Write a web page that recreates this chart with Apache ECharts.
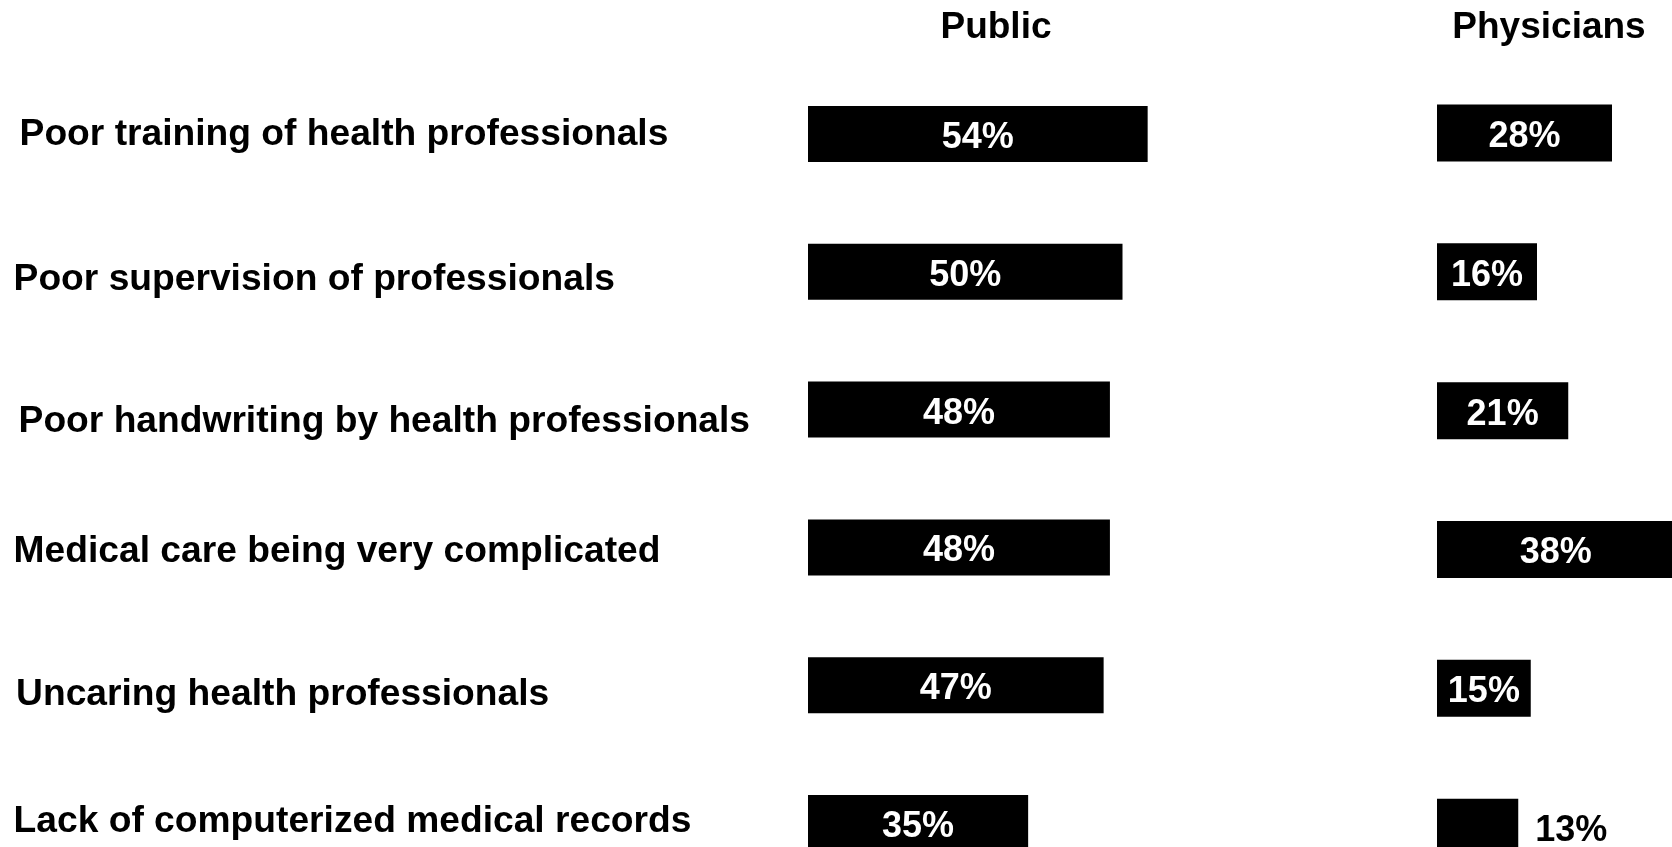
<!DOCTYPE html>
<html>
<head>
<meta charset="utf-8">
<script src="https://cdn.jsdelivr.net/npm/echarts@6/dist/echarts.min.js"></script>
<style>
html,body{margin:0;padding:0;background:#fff;}
#chart{width:1672px;height:847px;}
</style>
</head>
<body>
<div id="chart"></div>
<script>
// ---- data ----
const categories = [
  'Poor training of health professionals',
  'Poor supervision of professionals',
  'Poor handwriting by health professionals',
  'Medical care being very complicated',
  'Uncaring health professionals',
  'Lack of computerized medical records'
];
const publicValues = [54, 50, 48, 48, 47, 35];
const physicianValues = [28, 16, 21, 38, 15, 13];
const panelTitles = ['Public', 'Physicians'];

// ---- layout / style constants ----
const FONT = '"Liberation Sans", Arial, sans-serif';
const labelShiftX = [6, 0, 5, 0, 2.5, 0];
const labelShiftY = [0.9, 7.75, 12.4, 4.1, 9.2, -1.1];

const chart = echarts.init(document.getElementById('chart'));

const catData = categories.map((c, i) => ({
  value: c,
  textStyle: { align: 'left', padding: [0, 0, 0, labelShiftX[i]] }
}));

const rich = {
  t: { fontFamily: FONT, fontWeight: 'bold', fontSize: 37.2, lineHeight: 42, color: '#000' }
};
labelShiftY.forEach((s, i) => {
  rich['g' + i] = { fontSize: 1, lineHeight: Math.max(1, 2 * Math.abs(s)), color: 'rgba(0,0,0,0)' };
});

function catFormatter(value, index) {
  const s = labelShiftY[index];
  if (s >= 0) return '{g' + index + '| }\n{t|' + value + '}';
  return '{t|' + value + '}\n{g' + index + '| }';
}

function barLabel(v, small) {
  return small
    ? { show: true, position: 'right', distance: 17, color: '#000', offset: [0, 4] }
    : { show: true, position: 'inside', color: '#fff', offset: [0, 4] };
}

const option = {
  backgroundColor: '#fff',
  animation: false,
  title: [
    { text: panelTitles[0], left: 996, top: 9, textAlign: 'center', padding: 0,
      textStyle: { fontFamily: FONT, fontWeight: 'bold', fontSize: 37, color: '#000' } },
    { text: panelTitles[1], left: 1549, top: 9, textAlign: 'center', padding: 0,
      textStyle: { fontFamily: FONT, fontWeight: 'bold', fontSize: 37, color: '#000' } }
  ],
  grid: [
    { left: 808, width: 629, top: 65, height: 827, containLabel: false, outerBoundsMode: 'none' },
    { left: 1437, width: 625, top: 63.6, height: 833, containLabel: false, outerBoundsMode: 'none' }
  ],
  xAxis: [
    { gridIndex: 0, type: 'value', min: 0, max: 100, show: false },
    { gridIndex: 1, type: 'value', min: 0, max: 100, show: false }
  ],
  yAxis: [
    {
      gridIndex: 0, type: 'category', inverse: true, data: catData,
      axisLine: { show: false }, axisTick: { show: false }, splitLine: { show: false },
      axisLabel: {
        show: true, align: 'left', margin: 794.4, interval: 0, hideOverlap: false,
        fontFamily: FONT, fontWeight: 'bold', fontSize: 37.2, color: '#000',
        formatter: catFormatter, rich: rich
      }
    },
    {
      gridIndex: 1, type: 'category', inverse: true, data: categories,
      axisLine: { show: false }, axisTick: { show: false }, splitLine: { show: false },
      axisLabel: { show: false }
    }
  ],
  series: [
    {
      name: panelTitles[0], type: 'bar', xAxisIndex: 0, yAxisIndex: 0,
      barWidth: 56,
      itemStyle: { color: '#000' },
      label: { show: true, position: 'inside', color: '#fff', fontFamily: FONT, fontWeight: 'bold', fontSize: 36, formatter: '{c}%', offset: [0, 4] },
      data: publicValues.map(v => ({ value: v }))
    },
    {
      name: panelTitles[1], type: 'bar', xAxisIndex: 1, yAxisIndex: 1,
      barWidth: 57,
      itemStyle: { color: '#000' },
      label: { show: true, position: 'inside', color: '#fff', fontFamily: FONT, fontWeight: 'bold', fontSize: 36, formatter: '{c}%' },
      data: physicianValues.map(v => ({ value: v, label: barLabel(v, v < 14) }))
    }
  ]
};

chart.setOption(option);
</script>
</body>
</html>
